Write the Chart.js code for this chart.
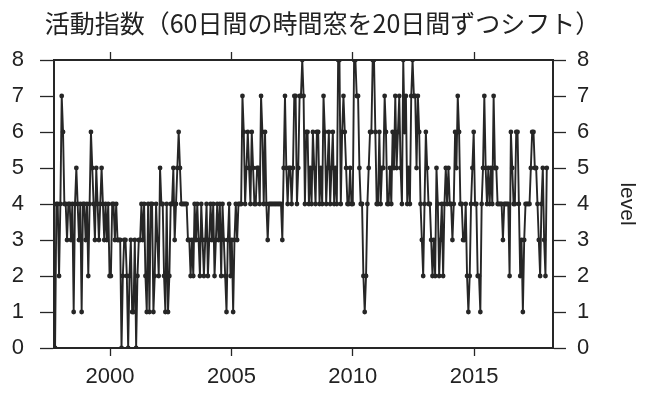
<!DOCTYPE html>
<html>
<head>
<meta charset="utf-8">
<script src="https://cdn.jsdelivr.net/npm/chart.js@4.4.1/dist/chart.umd.min.js"></script>
<style>
  html, body { margin: 0; padding: 0; background: #fff; }
</style>
</head>
<body>
<canvas id="activityChart" width="645" height="403"></canvas>
<script>
// Activity index: 60-day window shifted by 20 days
const TITLE = '活動指数（60日間の時間窓を20日間ずつシフト）';
const AXIS_TITLE = 'level';
const startYear = 1997.734;   // first window (decimal year)
const stepDays = 20;

// levels, one per 20-day step
const levels = [
  0,4,4,2,4,7,6,4,4,3,4,4,3,4,1,4,5,4,3,4,
  1,4,4,3,4,2,4,6,5,4,3,5,4,3,4,5,4,3,4,3,
  4,2,2,4,4,3,4,3,3,3,0,2,3,3,2,0,2,3,1,1,
  3,0,2,3,3,4,3,4,2,1,4,1,4,4,1,2,4,3,2,5,
  4,4,2,1,4,1,2,4,4,5,3,4,5,6,5,4,4,4,4,4,
  3,3,2,3,2,4,3,4,3,2,4,3,2,3,4,2,3,4,3,4,
  2,3,4,3,4,2,4,3,2,1,3,4,2,3,1,3,4,3,4,4,
  4,7,6,4,5,6,5,4,6,5,4,4,5,5,4,7,6,4,6,4,
  3,4,4,4,4,4,4,4,4,4,4,3,5,7,5,4,5,5,4,5,7,
  7,4,5,7,7,8,7,4,6,6,4,5,4,6,5,4,6,6,4,5,
  4,7,6,4,5,6,4,5,6,4,5,4,8,8,4,6,7,6,5,4,
  4,5,4,4,8,8,7,7,5,4,4,2,1,2,4,5,6,6,8,8,
  6,4,4,6,4,5,5,7,6,4,4,5,4,6,5,7,5,6,7,5,4,
  8,6,7,4,5,4,7,8,7,7,5,7,6,4,3,2,4,6,5,4,
  4,3,2,3,2,5,4,2,3,4,2,4,5,4,5,4,4,3,4,6,
  5,7,6,4,4,3,3,4,2,1,2,4,5,6,4,4,2,2,1,4,
  5,7,5,4,5,4,5,4,7,5,5,4,4,4,4,3,4,4,4,4,2,
  6,5,4,4,6,6,4,2,3,1,3,4,4,4,4,5,6,6,5,5,
  4,3,2,4,5,3,2,5
];

const xTickYears = [2000, 2005, 2010, 2015];
const levelTicks = [0, 1, 2, 3, 4, 5, 6, 7, 8];

const X_MIN = 1997.69;
const X_MAX = 2018.25;
const INK = '#262626';
const TICK_FONT = { family: '"Liberation Sans", Arial, sans-serif', size: 22 };

// one point per window
const points = levels.map((v, i) => ({ x: startYear + i * stepDays / 365.25, y: v }));

function fixBox(w, h) {
  return scale => {
    if (w != null) scale.width = w;
    if (h != null) scale.height = h;
  };
}

function yearTicks(scale) {
  scale.ticks = xTickYears.map(v => ({ value: v }));
}

function levelTickList(scale) {
  scale.ticks = levelTicks.map(v => ({ value: v }));
}

const ctx = document.getElementById('activityChart').getContext('2d');
new Chart(ctx, {
  type: 'line',
  data: {
    datasets: [{
      data: points,
      borderColor: INK,
      borderWidth: 1.9,
      pointRadius: 2.4,
      pointBackgroundColor: INK,
      pointBorderWidth: 0,
      tension: 0,
      xAxisID: 'x',
      yAxisID: 'y'
    }]
  },
  options: {
    responsive: false,
    devicePixelRatio: 1,
    animation: false,
    layout: { padding: 0 },
    plugins: {
      legend: { display: false },
      tooltip: { enabled: false },
      title: {
        display: true,
        text: TITLE,
        color: '#222',
        font: { family: '"Noto Sans CJK JP", sans-serif', size: 25, weight: 'normal', lineHeight: 1.2 },
        padding: { top: 8, bottom: 0 }
      }
    },
    scales: {
      x: {
        type: 'linear',
        position: 'bottom',
        min: X_MIN,
        max: X_MAX,
        afterBuildTicks: yearTicks,
        afterFit: fixBox(null, 55),
        border: { display: true, color: INK, width: 2 },
        grid: { drawOnChartArea: false, drawTicks: true, tickLength: 8, color: INK, tickWidth: 1.3 },
        ticks: { color: '#222', font: TICK_FONT, padding: 8, maxRotation: 0, callback: v => String(v) }
      },
      x2: {
        type: 'linear',
        position: 'top',
        min: X_MIN,
        max: X_MAX,
        afterBuildTicks: yearTicks,
        afterFit: scale => { scale.height = 60 - (scale.chart.titleBlock ? scale.chart.titleBlock.height : 37); },
        border: { display: true, color: INK, width: 2 },
        grid: { drawOnChartArea: false, drawTicks: true, tickLength: 8, color: INK, tickWidth: 1.3 },
        ticks: { display: false }
      },
      y: {
        type: 'linear',
        position: 'left',
        min: 0,
        max: 8,
        afterBuildTicks: levelTickList,
        afterFit: fixBox(54, null),
        border: { display: true, color: INK, width: 2 },
        grid: { drawOnChartArea: false, drawTicks: true, tickLength: 14, color: INK, tickWidth: 1.3 },
        ticks: { color: '#222', font: TICK_FONT, padding: 16 }
      },
      y2: {
        type: 'linear',
        position: 'right',
        min: 0,
        max: 8,
        afterBuildTicks: levelTickList,
        afterFit: fixBox(92, null),
        border: { display: true, color: INK, width: 2 },
        grid: { drawOnChartArea: false, drawTicks: true, tickLength: 13, color: INK, tickWidth: 1.3 },
        ticks: { color: '#222', font: TICK_FONT, padding: 11 },
        title: {
          display: true,
          text: AXIS_TITLE,
          color: '#222',
          font: { family: '"Liberation Sans", Arial, sans-serif', size: 21 },
          padding: { top: 6, bottom: 0 }
        }
      }
    }
  }
});
</script>
</body>
</html>
